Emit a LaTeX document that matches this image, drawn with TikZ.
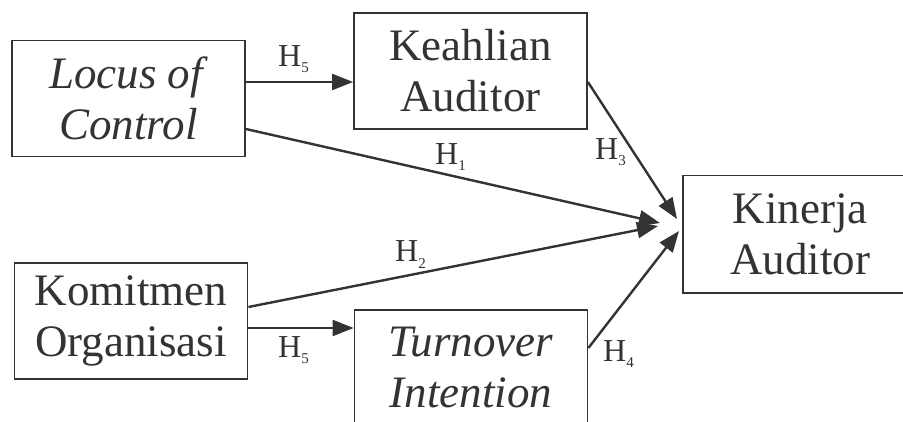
\documentclass[tikz,border=0pt]{standalone}
\usepackage{fontspec}
\setmainfont{Liberation Serif}
\usetikzlibrary{arrows.meta}
\definecolor{ink}{HTML}{333333}
\newcommand{\hyp}[1]{H\raisebox{-6pt}{\fontsize{15}{15}\selectfont #1}}
\tikzset{
  box/.style={draw=ink, line width=1.8pt, minimum width=233pt, minimum height=116pt,
    inner sep=0pt, align=center, text=ink, font=\fontsize{45}{51}\selectfont},
  boxline/.style={draw=ink, line width=1.8pt},
  arr/.style={draw=ink, line width=2.4pt, -{Triangle[length=21pt,width=16pt]}},
  lab/.style={anchor=base west, inner sep=0pt, text=ink, font=\fontsize{32}{32}\selectfont}
}
\begin{document}
\begin{tikzpicture}[x=1pt, y=-1pt]
  \useasboundingbox (0,0) rectangle (903,422);
  \clip (0,0) rectangle (903,422);
  \fill[white] (0,0) rectangle (903,422);

  % constructs
  \node[box] (L) at (128.5,98.5) {\textit{Locus of}\\\textit{Control}};
  \node[box] (K) at (470.5,71) {Keahlian\\Auditor};
  \node[box, draw=none] (P) at (800,234.5) {Kinerja\\Auditor};
  \draw[boxline] ([xshift=40pt]P.north east) -- (P.north west) -- (P.south west) -- ([xshift=40pt]P.south east);
  \node[box] (O) at (131,321) {Komitmen\\Organisasi};
  \node[box, anchor=north] (T) at (471,309) {\textit{Turnover}\\\textit{Intention}};

  % convergence points in front of Kinerja Auditor
  \coordinate (p1) at (660,223);
  \coordinate (p2) at (658,226);
  \coordinate (p3) at (677,219);
  \coordinate (p4) at (679,231);

  % paths
  \draw[arr] (L.east |- 0,82) -- (K.west |- 0,82);
  \draw[arr] (O.east |- 0,328) -- (T.west |- 0,328);
  \draw[arr] (L.east |- 0,129) -- (p1);
  \draw[arr] (O.east |- 0,307) -- (p2);
  \draw[arr] (K.east |- 0,82) -- (p3);
  \draw[arr] (T.east |- 0,348) -- (p4);

  % hypothesis labels
  \node[lab] (h5a) at (278,67) {\hyp{5}};
  \node[lab] (h1) at (435,165) {\hyp{1}};
  \node[lab] (h2) at (395,262) {\hyp{2}};
  \node[lab] (h3) at (595,160) {\hyp{3}};
  \node[lab] (h4) at (603,361) {\hyp{4}};
  \node[lab] (h5b) at (278,357) {\hyp{5}};
\end{tikzpicture}
\end{document}
